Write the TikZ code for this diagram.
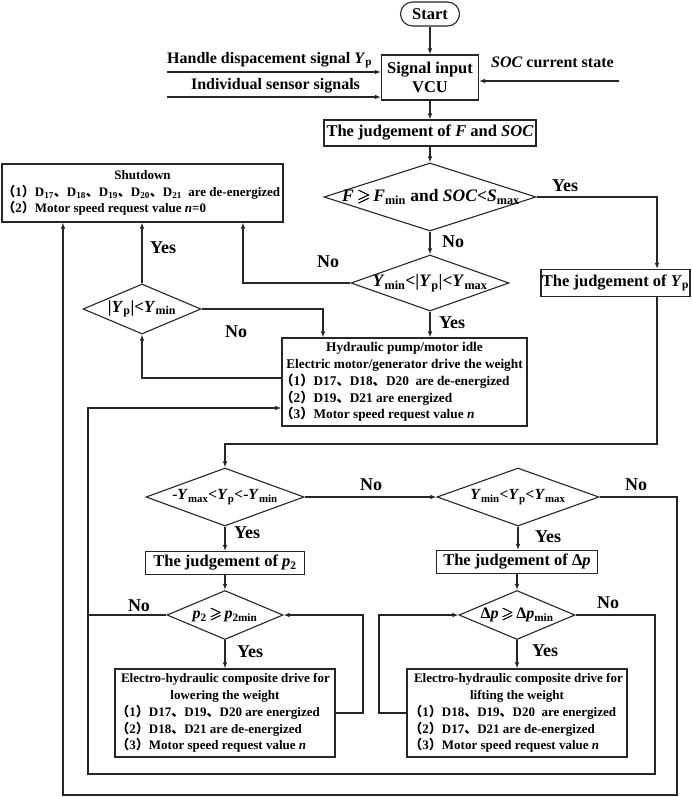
\documentclass[tikz,border=0pt]{standalone}
\usepackage{amssymb}
\usepackage{fontspec}
\setmainfont{Liberation Serif}
\newfontfamily\cjk{Noto Sans CJK SC}
\usetikzlibrary{shapes.geometric,arrows.meta}
\newcommand{\pa}[1]{{\cjk\hspace{-0.35em}（}#1{\cjk ）}}
\newcommand{\dn}{{\cjk 、}}
\newcommand{\sbs}[1]{\textsubscript{#1}}
\newcommand{\gs}{\,\rlap{$\geqslant$}\hspace{0.4pt}\rlap{$\geqslant$}\hspace{-0.4pt}\raisebox{0.3pt}{$\geqslant$}\,}
\begin{document}
\begin{tikzpicture}[x=1pt,y=-1pt,
  conn/.style={draw=black!85, line width=1.1pt},
  arr/.style={conn, -{Latex[length=6pt,width=4.5pt]}},
  box/.style={draw=black!85, line width=1.1pt, rectangle, inner sep=0pt, font=\bfseries\fontsize{16.5}{19}\selectfont},
  tbox/.style={draw=black!85, line width=1.1pt, rectangle, inner sep=0pt, font=\bfseries\fontsize{13}{16.8}\selectfont},
  dia/.style={draw=black!85, line width=1.1pt, diamond, inner sep=0pt},
  dtext/.style={inner sep=0pt, font=\bfseries\fontsize{16}{18}\selectfont},
  lab/.style={inner sep=0pt, font=\bfseries\fontsize{18}{18}\selectfont},
  txt/.style={inner sep=0pt, font=\bfseries\fontsize{16}{19}\selectfont}]
\useasboundingbox (0,0) rectangle (692,797);
\fill[white] (0,0) rectangle (692,797);

% ---------- nodes ----------
\node[box, rounded corners=12pt, minimum width=59pt, minimum height=24pt] (start) at (430,14) {Start};
\node[box, minimum width=97pt, minimum height=45pt, align=center] (vcu) at (430,77.5) {Signal input\\VCU};
\node[box, minimum width=212pt, minimum height=26pt] (jf) at (430,133) {The judgement of \textit{F} and \textit{SOC}};

\node[txt, anchor=west] (ht) at (167,60) {Handle dispacement signal \textit{Y}\sbs{p}};
\node[txt] (it) at (275.5,86) {Individual sensor signals};
\node[txt, anchor=west] (st) at (491,62) {\textit{SOC} current state};

\node[dia, minimum width=212pt, minimum height=68pt] (d1) at (430,197) {};
\node[dtext, font=\bfseries\fontsize{17.5}{18}\selectfont] (d1t) at (431,197) {\textit{F}\gs\textit{F}\sbs{min} and \textit{SOC}<\textit{S}\sbs{max}};

\node[dia, minimum width=158pt, minimum height=56pt] (d2) at (430,283) {};
\node[dtext, font=\bfseries\fontsize{17.5}{18}\selectfont] (d2t) at (430,283) {\textit{Y}\sbs{min}<|\textit{Y}\sbs{p}|<\textit{Y}\sbs{max}};

\node[box, minimum width=149pt, minimum height=27pt] (yp) at (615.5,283) {The judgement of \textit{Y}\sbs{p}};

\node[tbox, minimum width=281pt, minimum height=58pt] (sd) at (142.5,193) {\begin{minipage}{271pt}\centering\mbox{Shutdown}\par\raggedright
\mbox{\pa{1}D\sbs{17}\dn D\sbs{18}\dn D\sbs{19}\dn D\sbs{20}\dn D\sbs{21}\ \ are de-energized}\\
\mbox{\pa{2}Motor speed request value \textit{n}=0}\end{minipage}};

\node[dia, minimum width=118pt, minimum height=50pt] (d5) at (142,309) {};
\node[dtext, font=\bfseries\fontsize{17}{18}\selectfont] (d5t) at (142,309) {|\textit{Y}\sbs{p}|<\textit{Y}\sbs{min}};

\node[tbox, font=\bfseries\fontsize{13.3}{16.8}\selectfont, minimum width=245pt, minimum height=88pt] (hyd) at (404.5,382) {\begin{minipage}{239pt}\centering\mbox{Hydraulic pump/motor idle}\\\mbox{Electric motor/generator drive the weight}\par\raggedright
\mbox{\pa{1}D17\dn D18\dn D20\ \ are de-energized}\\
\mbox{\pa{2}D19\dn D21 are energized}\\
\mbox{\pa{3}Motor speed request value \textit{n}}\end{minipage}};

\node[dia, minimum width=158pt, minimum height=58pt] (d3) at (225,497) {};
\node[dtext, font=\bfseries\fontsize{15.5}{17}\selectfont] (d3t) at (225,497) {-\textit{Y}\sbs{max}<\textit{Y}\sbs{p}<-\textit{Y}\sbs{min}};

\node[dia, minimum width=162pt, minimum height=58pt] (d4) at (518,497) {};
\node[dtext, font=\bfseries\fontsize{15.5}{17}\selectfont] (d4t) at (518,497) {\textit{Y}\sbs{min}<\textit{Y}\sbs{p}<\textit{Y}\sbs{max}};

\node[box, minimum width=159pt, minimum height=23pt] (p2b) at (225,563) {The judgement of \textit{p}\sbs{2}};
\node[box, minimum width=161pt, minimum height=23pt] (dpb) at (517,562) {The judgement of Δ\textit{p}};

\node[dia, minimum width=116pt, minimum height=49pt] (p2d) at (225,615) {};
\node[dtext] (p2t) at (225,615) {\textit{p}\sbs{2}\gs\textit{p}\sbs{2min}};

\node[dia, minimum width=116pt, minimum height=49pt] (dpd) at (517,615) {};
\node[dtext] (dpt) at (517,615) {Δ\textit{p}\gs Δ\textit{p}\sbs{min}};

\node[tbox, minimum width=220pt, minimum height=88pt] (low) at (225,713) {\begin{minipage}{208pt}\centering\mbox{Electro-hydraulic composite drive for}\\\mbox{lowering the weight}\par\raggedright
\mbox{\pa{1}D17\dn D19\dn D20 are energized}\\
\mbox{\pa{2}D18\dn D21 are de-energized}\\
\mbox{\pa{3}Motor speed request value \textit{n}}\end{minipage}};

\node[tbox, minimum width=220pt, minimum height=88pt] (lift) at (517,713) {\begin{minipage}{206pt}\centering\mbox{Electro-hydraulic composite drive for}\\\mbox{lifting the weight}\par\raggedright
\mbox{\pa{1}D18\dn D19\dn D20\ \ are energized}\\
\mbox{\pa{2}D17\dn D21 are de-energized}\\
\mbox{\pa{3}Motor speed request value \textit{n}}\end{minipage}};

% ---------- labels ----------
\node[lab] (l1) at (565,186) {Yes};
\node[lab] (l2) at (453,242) {No};
\node[lab] (l3) at (452,323) {Yes};
\node[lab] (l4) at (328,262) {No};
\node[lab] (l5) at (163,248) {Yes};
\node[lab] (l6) at (236,332) {No};
\node[lab] (l7) at (371,485) {No};
\node[lab] (l8) at (247,533) {Yes};
\node[lab] (l9) at (636,485) {No};
\node[lab] (l10) at (548,537) {Yes};
\node[lab] (l11) at (139,606) {No};
\node[lab] (l12) at (250,652) {Yes};
\node[lab] (l13) at (608,603) {No};
\node[lab] (l14) at (545,651) {Yes};

% ---------- helper coordinates ----------
\coordinate (hs) at (167,72);
\coordinate (is) at (167,97);
\coordinate (ss) at (619,81);
\coordinate (xyp) at (657,0);
\coordinate (yl) at (0,444);
\coordinate (xno) at (243,0);
\coordinate (x323) at (323,0);
\coordinate (y378) at (0,378);
\coordinate (y408) at (0,408);
\coordinate (c1) at (655,774);
\coordinate (c2) at (88,774);
\coordinate (o1) at (677,795);
\coordinate (o2) at (63,795);
\coordinate (f1) at (363,713);
\coordinate (f2) at (379,713);

% ---------- connectors ----------
\draw[arr] (start.south) -- (vcu.north);
\draw[arr] (hs) -- (hs -| vcu.west);
\draw[arr] (is) -- (is -| vcu.west);
\draw[arr] (ss) -- (ss -| vcu.east);
\draw[arr] (vcu.south) -- (jf.north);
\draw[arr] (jf.south) -- (d1.north);
\draw[arr] (d1.south) -- (d2.north);
\draw[arr] (d1.east) -| (yp.north -| xyp);
\draw[arr] (d2.south) -- (d2.south |- hyd.north);
\draw[arr] (d2.west) -| (sd.south -| xno);
\draw[arr] (d5.north) -- (d5.north |- sd.south);
\draw[arr] (d5.east) -| (hyd.north -| x323);
\draw[arr] (hyd.west |- y378) -| (d5.south);
\draw[arr] (yp.south -| xyp) -- (xyp |- yl) -| (d3.north);
\draw[arr] (d3.east) -- (d4.west);
\draw[arr] (d3.south) -- (p2b.north);
\draw[arr] (p2b.south) -- (p2d.north);
\draw[arr] (p2d.south) -- (low.north);
\draw[arr] (d4.south) -- (d4.south |- dpb.north);
\draw[arr] (dpb.south) -- (dpd.north);
\draw[arr] (dpd.south) -- (lift.north);
\draw[arr] (low.east |- f1) -- (f1) |- (p2d.east);
\draw[arr] (lift.west |- f2) -- (f2) |- (dpd.west);
\draw[conn] (p2d.west) -- (p2d.west -| c2);
\draw[arr] (dpd.east) -| (c1) -- (c2) |- (hyd.west |- y408);
\draw[arr] (d4.east) -| (o1) -- (o2) -- (o2 |- sd.south);
\end{tikzpicture}
\end{document}
